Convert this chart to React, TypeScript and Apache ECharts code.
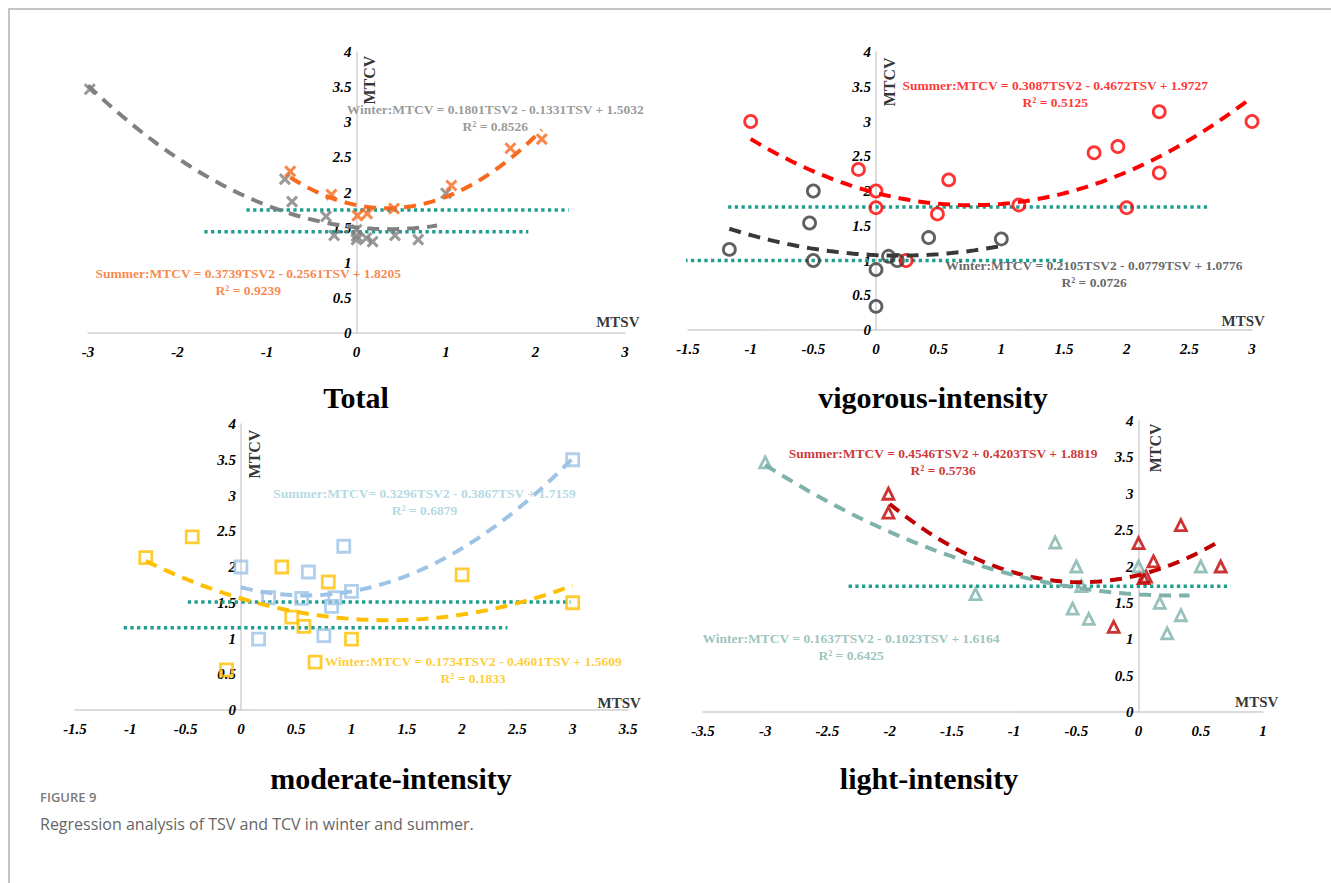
import React, { useEffect, useRef } from "react";
import * as echarts from "echarts";

// ---------- DATA ----------
// Total
const totalWinter = [[-2.98, 3.47], [-0.8, 2.19], [-0.72, 1.87], [-0.34, 1.66], [-0.25, 1.39], [0, 1.47], [0, 1.38], [0, 1.33], [0.11, 1.35], [0.18, 1.3], [0.43, 1.39], [0.69, 1.33], [1.0, 1.99]];
const totalSummer = [[-0.74, 2.3], [-0.28, 1.97], [0.01, 1.67], [0.12, 1.7], [0.42, 1.77], [1.06, 2.1], [1.72, 2.63], [2.07, 2.76]];
const totalWinterFit = [0.1801, -0.1331, 1.5032];
const totalWinterRange = [-3, 0.9];
const totalSummerFit = [0.3739, -0.2561, 1.8205];
const totalSummerRange = [-0.74, 2.07];
const totalMeanLines = [[1.75, -1.23, 2.37], [1.44, -1.7, 1.92]];

// Vigorous-intensity
const vigSummer = [[-1.0, 3.0], [-0.14, 2.31], [0, 2.0], [0, 1.76], [0.24, 1.0], [0.49, 1.67], [0.58, 2.16], [1.14, 1.8], [1.74, 2.55], [1.93, 2.64], [2.0, 1.76], [2.26, 3.14], [2.26, 2.26], [3.0, 3.0]];
const vigWinter = [[-1.17, 1.16], [-0.5, 2.0], [-0.53, 1.54], [-0.5, 1.0], [0, 0.87], [0, 0.34], [0.1, 1.06], [0.17, 1.0], [0.42, 1.33], [1.0, 1.31]];
const vigSummerFit = [0.3087, -0.4672, 1.9727];
const vigSummerRange = [-1, 3];
const vigWinterFit = [0.2105, -0.0779, 1.0776];
const vigWinterRange = [-1.17, 1.0];
const vigMeanLines = [[1.77, -1.18, 2.65], [1.0, -1.53, 1.5]];

// Moderate-intensity
const modSummer = [[0, 2.0], [0.16, 0.99], [0.25, 1.57], [0.55, 1.56], [0.61, 1.93], [0.75, 1.04], [0.82, 1.45], [0.85, 1.57], [0.93, 2.29], [1.0, 1.66], [3.0, 3.5]];
const modWinter = [[-0.86, 2.13], [-0.44, 2.42], [-0.13, 0.56], [0.37, 2.0], [0.46, 1.3], [0.57, 1.17], [0.67, 0.67], [0.79, 1.79], [1.0, 0.99], [2.0, 1.89], [3.0, 1.5]];
const modSummerFit = [0.3296, -0.3867, 1.7159];
const modSummerRange = [0, 3];
const modWinterFit = [0.1734, -0.4601, 1.5609];
const modWinterRange = [-0.86, 3];
const modMeanLines = [[1.51, -0.48, 2.98], [1.15, -1.06, 2.41]];

// Light-intensity
const lightSummer = [[-2.01, 3.0], [-2.01, 2.74], [-0.2, 1.17], [0, 2.32], [0.04, 1.84], [0.06, 1.86], [0.12, 2.07], [0.34, 2.57], [0.66, 2.0]];
const lightWinter = [[-3.0, 3.43], [-1.31, 1.62], [-0.67, 2.33], [-0.53, 1.42], [-0.5, 2.0], [-0.46, 1.73], [-0.4, 1.28], [0, 2.0], [0.17, 1.5], [0.23, 1.08], [0.34, 1.33], [0.5, 2.0]];
const lightSummerFit = [0.4546, 0.4203, 1.8819];
const lightSummerRange = [-2.0, 0.66];
const lightWinterFit = [0.1637, -0.1023, 1.6164];
const lightWinterRange = [-3, 0.41];
const lightMeanLines = [[1.73, -2.33, 0.74]];

// Axis ticks
const xTicks = [[-3, 3, 1], [-1.5, 3, 0.5], [-1.5, 3.5, 0.5], [-3.5, 1, 0.5]];
const yTicks = [0, 4, 0.5];

// Texts
const titles = ["Total", "vigorous-intensity", "moderate-intensity", "light-intensity"];
const equations = [
  ["Winter:MTCV = 0.1801TSV2 - 0.1331TSV + 1.5032\nR² = 0.8526", "Summer:MTCV = 0.3739TSV2 - 0.2561TSV + 1.8205\nR² = 0.9239"],
  ["Summer:MTCV = 0.3087TSV2 - 0.4672TSV + 1.9727\nR² = 0.5125", "Winter:MTCV = 0.2105TSV2 - 0.0779TSV + 1.0776\nR² = 0.0726"],
  ["Summer:MTCV= 0.3296TSV2 - 0.3867TSV + 1.7159\nR² = 0.6879", "Winter:MTCV = 0.1734TSV2 - 0.4601TSV + 1.5609\nR² = 0.1833"],
  ["Summer:MTCV = 0.4546TSV2 + 0.4203TSV + 1.8819\nR² = 0.5736", "Winter:MTCV = 0.1637TSV2 - 0.1023TSV + 1.6164\nR² = 0.6425"],
];
const equationAnchors = [
  [[1.55, 3.06], [-1.21, 0.73]],
  [[1.43, 3.39], [1.74, 0.81]],
  [[1.66, 2.91], [2.1, 0.56]],
  [[-1.57, 3.44], [-2.31, 0.9]],
];
const mtcvAnchors = [[0.15, 3.6], [0.11, 3.57], [0.12, 3.58], [0.135, 3.63]];
const mtsvAnchors = [[2.92, 0.15], [2.93, 0.13], [3.42, 0.1], [0.95, 0.14]];
const captionLabel = "FIGURE 9";
const captionText = "Regression analysis of TSV and TCV in winter and summer.";

// ---------- STYLE / LAYOUT ----------
const SERIF = '"Liberation Serif", "Times New Roman", serif';
const TEAL = "#1f9e8f";
const grids = [
  { left: 88, top: 52, width: 537, height: 281 },
  { left: 688, top: 52, width: 564, height: 278 },
  { left: 75, top: 424, width: 553, height: 286 },
  { left: 703, top: 421, width: 560, height: 291 },
];
const titlePos = [[356, 397], [933, 397], [391, 778], [929, 778]];
const XPATH = "path://M0,0L10,10M10,0L0,10";

function fitCurve(coef: number[], range: number[]) {
  const pts: number[][] = [];
  const n = 60;
  for (let i = 0; i <= n; i++) {
    const x = range[0] + ((range[1] - range[0]) * i) / n;
    pts.push([x, coef[0] * x * x + coef[1] * x + coef[2]]);
  }
  return pts;
}

function pointSeries(idx: number, data: number[][], symbol: string, color: string, size: number) {
  return {
    type: "scatter",
    xAxisIndex: idx,
    yAxisIndex: idx,
    data,
    symbol,
    symbolSize: size,
    itemStyle: { color: symbol === XPATH ? color : "rgba(0,0,0,0)", borderColor: color, borderWidth: symbol === XPATH ? 3 : 2.8 },
    z: 3,
  };
}

function fitSeries(idx: number, coef: number[], range: number[], color: string) {
  return {
    type: "line",
    xAxisIndex: idx,
    yAxisIndex: idx,
    data: fitCurve(coef, range),
    showSymbol: false,
    symbol: "none",
    lineStyle: { color, width: 4, type: [12, 8] },
    z: 4,
  };
}

function meanSeries(idx: number, lines: number[][]) {
  return lines.map((l) => ({
    type: "line",
    xAxisIndex: idx,
    yAxisIndex: idx,
    data: [[l[1], l[0]], [l[2], l[0]]],
    showSymbol: false,
    symbol: "none",
    lineStyle: { color: TEAL, width: 3.5, type: [3.3, 3.4] },
    z: 2,
  }));
}

function textSeries(idx: number, anchor: number[], text: string, color: string, size: number, rotate = 0) {
  return {
    type: "scatter",
    xAxisIndex: idx,
    yAxisIndex: idx,
    data: [anchor],
    symbolSize: 0,
    silent: true,
    z: 10,
    label: {
      show: true,
      position: "inside",
      formatter: text,
      color,
      fontFamily: SERIF,
      fontWeight: "bold",
      fontSize: size,
      lineHeight: 17,
      align: "center",
      verticalAlign: "middle",
      rotate,
    },
  };
}

const panelSeries = [
  { pts: [[totalWinter, XPATH, "#808080", 10], [totalSummer, XPATH, "#f7691c", 10]], fits: [[totalWinterFit, totalWinterRange, "#808080"], [totalSummerFit, totalSummerRange, "#f7691c"]], means: totalMeanLines, eqColors: ["#7f7f7f", "#f7691c"] },
  { pts: [[vigSummer, "circle", "#ff0000", 12], [vigWinter, "circle", "#383838", 12]], fits: [[vigSummerFit, vigSummerRange, "#ff0000"], [vigWinterFit, vigWinterRange, "#383838"]], means: vigMeanLines, eqColors: ["#ff0000", "#404040"] },
  { pts: [[modSummer, "rect", "#9dc3e6", 12], [modWinter, "rect", "#ffbf00", 12]], fits: [[modSummerFit, modSummerRange, "#9dc3e6"], [modWinterFit, modWinterRange, "#ffbf00"]], means: modMeanLines, eqColors: ["#9fd0dc", "#ffbf00"] },
  { pts: [[lightSummer, "triangle", "#c00000", 11], [lightWinter, "triangle", "#7fb1ab", 11]], fits: [[lightSummerFit, lightSummerRange, "#c00000"], [lightWinterFit, lightWinterRange, "#7fb1ab"]], means: lightMeanLines, eqColors: ["#c00000", "#84b4ae"] },
];

function buildOption() {
  const axisLabel = { color: "#000", fontFamily: SERIF, fontStyle: "italic", fontWeight: "bold", fontSize: 15 };
  const xAxis = xTicks.map((t, i) => ({
    type: "value",
    gridIndex: i,
    min: t[0],
    max: t[1],
    interval: t[2],
    axisLine: { show: true, onZero: false, lineStyle: { color: "#d0d0d0", width: 1.5 } },
    axisTick: { show: false },
    splitLine: { show: false },
    axisLabel: { ...axisLabel, margin: 11 },
  }));
  const yAxis = xTicks.map((t, i) => ({
    type: "value",
    gridIndex: i,
    position: "left",
    // place the y axis (line and labels) at x = 0 of this panel
    offset: -(grids[i].width * (0 - t[0])) / (t[1] - t[0]),
    min: yTicks[0],
    max: yTicks[1],
    interval: yTicks[2],
    axisLine: { show: true, onZero: false, lineStyle: { color: "#d0d0d0", width: 1.5 } },
    axisTick: { show: false },
    splitLine: { show: false },
    axisLabel: { ...axisLabel, margin: 5 },
  }));
  const series: any[] = [];
  panelSeries.forEach((p, i) => {
    series.push(...meanSeries(i, p.means));
    p.pts.forEach((s: any) => series.push(pointSeries(i, s[0], s[1], s[2], s[3])));
    p.fits.forEach((f: any) => series.push(fitSeries(i, f[0], f[1], f[2])));
    equations[i].forEach((eq, j) => series.push(textSeries(i, equationAnchors[i][j], eq, p.eqColors[j], 13.5)));
    series.push(textSeries(i, mtcvAnchors[i], "MTCV", "#000", 16, 90));
    series.push(textSeries(i, mtsvAnchors[i], "MTSV", "#000", 15));
  });
  const graphic: any[] = [
    { type: "line", shape: { x1: 9, y1: 9, x2: 9, y2: 883 }, style: { stroke: "#c4c4c4", lineWidth: 2 } },
    { type: "line", shape: { x1: 8, y1: 9, x2: 1331, y2: 9 }, style: { stroke: "#c4c4c4", lineWidth: 2 } },
    ...titles.map((t, i) => ({
      type: "text",
      x: titlePos[i][0],
      y: titlePos[i][1],
      style: { text: t, fill: "#000", font: `bold 30px ${SERIF}`, textAlign: "center", textVerticalAlign: "middle" },
    })),
    { type: "text", x: 40, y: 797, style: { text: captionLabel, fill: "#7a7a7a", font: `600 13px "Open Sans", sans-serif`, textVerticalAlign: "middle" } },
    { type: "text", x: 40, y: 824, style: { text: captionText, fill: "#666", font: `16px "Open Sans", sans-serif`, textVerticalAlign: "middle" } },
  ];
  return {
    animation: false,
    backgroundColor: "#fff",
    grid: grids.map((g) => ({ ...g, containLabel: false })),
    xAxis,
    yAxis,
    series,
    graphic,
  };
}

export default function App() {
  const ref = useRef<HTMLDivElement>(null);
  useEffect(() => {
    if (!ref.current) return;
    const chart = echarts.init(ref.current, undefined, { renderer: "svg" });
    chart.setOption(buildOption() as any);
    return () => chart.dispose();
  }, []);
  return <div ref={ref} style={{ position: "fixed", left: 0, top: 0, width: 1331, height: 883 }} />;
}
